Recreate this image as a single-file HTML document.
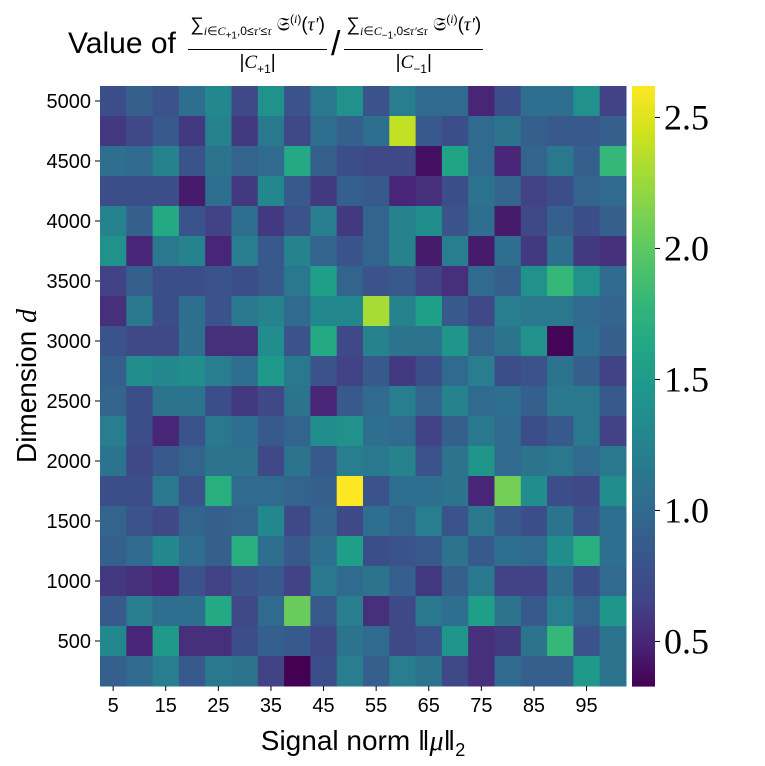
<!DOCTYPE html>
<html><head><meta charset="utf-8"><style>
body{margin:0;background:#fff;width:765px;height:766px;overflow:hidden;font-family:"Liberation Sans",sans-serif;position:relative}
#title{position:absolute;left:68px;top:12px;height:64px;display:flex;align-items:center;font-size:30px;color:#000;white-space:nowrap}
.frac{display:inline-flex;flex-direction:column;align-items:center;margin:0 4px;font-size:19px}
.frac .num{padding:0 2px;border-bottom:1.5px solid #000;line-height:26px}
.frac .den{line-height:26px}
i{font-family:"Liberation Serif",serif}
</style></head><body>
<div id="title">Value of&nbsp;<span class="frac"><span class="num">∑<sub style="font-size:12px"><i>i</i>∈<i>C</i><sub>+1</sub>,0≤<i>τ′</i>≤<i>τ</i></sub> 𝔖<sup style="font-size:12px">(<i>i</i>)</sup>(<i>τ′</i>)</span><span class="den">|<i>C</i><sub style="font-size:12px">+1</sub>|</span></span><span style="font-size:34px">/</span><span class="frac"><span class="num">∑<sub style="font-size:12px"><i>i</i>∈<i>C</i><sub>−1</sub>,0≤<i>τ′</i>≤<i>τ</i></sub> 𝔖<sup style="font-size:12px">(<i>i</i>)</sup>(<i>τ′</i>)</span><span class="den">|<i>C</i><sub style="font-size:12px">−1</sub>|</span></span></div>
<svg id="chart" width="765" height="766" style="position:absolute;left:0;top:0"></svg>
<script>
const xCats=[5,10,15,20,25,30,35,40,45,50,55,60,65,70,75,80,85,90,95,100];
const yCats=[5000,4750,4500,4250,4000,3750,3500,3250,3000,2750,2500,2250,2000,1750,1500,1250,1000,750,500,250];
const xTickLabels=[5,15,25,35,45,55,65,75,85,95];
const yTickLabels=[5000,4500,4000,3500,3000,2500,2000,1500,1000,500];
const cbTicks=[0.5,1.0,1.5,2.0,2.5];
const vmin=0.33, vmax=2.62;
const values=[
[0.75,0.9,0.8,1.05,1.3,0.7,1.4,0.8,1.15,1.4,0.8,1.2,1.0,1.0,0.5,0.75,1.05,1.05,1.4,0.65],
[0.6,0.7,0.85,0.6,1.25,0.6,1.15,0.7,1.05,0.9,1.05,2.4,0.85,0.75,1.0,1.1,0.9,0.85,0.85,0.9],
[1.05,1.0,1.25,0.8,1.1,0.95,1.0,1.65,0.9,0.75,0.7,0.7,0.4,1.6,1.0,0.5,0.95,1.15,0.9,1.8],
[0.75,0.75,0.75,0.45,1.05,0.6,1.3,0.85,0.6,0.9,0.85,0.5,0.55,0.75,1.1,0.95,0.65,0.75,0.95,1.0],
[1.25,0.9,1.65,0.8,0.65,1.05,0.6,0.8,1.2,0.6,0.95,1.25,1.35,0.8,1.05,0.45,0.7,0.9,0.75,0.9],
[1.4,0.5,1.15,1.25,0.5,1.2,0.85,1.25,0.95,0.8,0.95,1.25,0.45,1.2,0.45,1.05,0.6,1.05,0.6,0.55],
[0.65,0.9,0.75,0.75,0.8,0.75,0.85,1.15,1.55,0.95,0.8,0.85,0.65,0.55,1.0,0.9,1.4,1.8,1.4,1.0],
[0.55,1.15,0.75,1.05,0.8,1.15,1.25,1.0,1.3,1.3,2.3,1.25,1.55,0.85,0.7,1.2,1.15,1.15,1.0,0.95],
[0.8,0.7,0.7,1.05,0.55,0.55,1.35,0.8,1.65,0.7,1.25,1.1,1.1,1.45,0.95,1.1,1.4,0.35,1.05,0.9],
[0.9,1.35,1.3,1.35,1.2,1.05,1.5,1.15,0.8,0.65,0.85,0.6,0.75,1.0,1.2,0.75,0.8,1.1,0.9,0.65],
[0.95,0.75,1.1,1.1,0.75,0.6,0.7,1.1,0.5,0.85,1.0,1.2,0.95,1.25,1.0,1.05,0.9,1.15,1.15,0.85],
[1.2,0.75,0.5,0.8,1.15,1.05,0.85,0.95,1.35,1.4,1.05,1.0,0.65,0.9,1.15,1.0,0.75,0.85,1.15,0.65],
[1.1,0.7,0.85,0.95,1.1,1.1,0.7,1.1,0.85,1.2,1.15,1.25,0.8,1.1,1.45,1.0,1.1,1.15,1.0,1.15],
[0.75,0.75,1.15,0.8,1.7,1.0,1.0,0.95,0.9,2.62,0.8,1.05,1.05,1.1,0.5,2.1,1.35,0.75,0.7,1.35],
[0.95,0.8,0.7,0.95,0.9,0.95,1.3,0.7,0.95,0.7,1.05,0.95,1.2,0.8,1.15,0.85,0.75,1.1,0.8,1.05],
[0.9,1.0,1.3,1.05,0.9,1.7,1.05,0.85,1.05,1.55,0.75,0.8,0.85,1.1,0.85,1.05,1.0,1.35,1.7,1.05],
[0.6,0.55,0.5,0.8,0.65,0.8,0.85,0.65,1.15,1.0,1.1,0.9,0.6,0.9,1.15,0.65,0.65,1.05,0.75,1.0],
[0.85,1.2,1.05,1.05,1.65,0.7,1.0,2.05,0.85,1.2,0.55,0.7,1.15,1.05,1.55,1.1,0.85,1.2,0.95,1.45],
[1.3,0.5,1.5,0.55,0.55,0.75,0.9,0.85,0.7,1.1,1.0,0.7,0.8,1.45,0.55,0.6,1.1,1.8,0.8,1.1],
[0.9,1.0,1.2,0.85,1.15,1.1,0.65,0.33,0.75,1.2,0.9,1.2,1.1,0.7,0.55,1.0,0.9,0.9,1.5,1.1]
];
const VIR=[[68,1,84],[72,36,117],[65,68,135],[57,86,140],[49,104,142],[42,120,142],[35,137,142],[31,152,139],[34,168,132],[53,183,121],[84,197,104],[122,209,81],[165,219,54],[210,226,27],[253,231,37]];
function vir(v){let t=Math.max(0,Math.min(1,(v-vmin)/(vmax-vmin)))*(VIR.length-1);let i=Math.min(Math.floor(t),VIR.length-2),f=t-i;const c=VIR[i].map((a,k)=>Math.round(a+(VIR[i+1][k]-a)*f));return `rgb(${c[0]},${c[1]},${c[2]})`;}
const L=100,R=626,T=86,B=686,cw=(R-L)/xCats.length,ch=(B-T)/yCats.length;
const xPos=c=>L+xCats.indexOf(c)*cw, yPos=c=>T+yCats.indexOf(c)*ch;
const NS='http://www.w3.org/2000/svg',svg=document.getElementById('chart');
function mk(tag,attrs,txt){const e=document.createElementNS(NS,tag);for(const k in attrs)e.setAttribute(k,attrs[k]);if(txt!==undefined)e.textContent=txt;svg.appendChild(e);return e;}
yCats.forEach((yc,r)=>xCats.forEach((xc,c)=>{const e=mk('rect',{x:xPos(xc),y:yPos(yc),width:cw+0.5,height:ch+0.5,fill:vir(values[r][c])});

}));
xTickLabels.forEach(v=>{const x=xPos(v)+cw/2;const l=mk('line',{x1:x,x2:x,y1:B,y2:B+5,stroke:'#000','stroke-width':1});


const t=mk('text',{x:x,y:B+26,'text-anchor':'middle','font-size':20,'font-family':'Liberation Sans'},v);

});
yTickLabels.forEach(v=>{const y=yPos(v)+ch/2;const l=mk('line',{x1:L-5,x2:L,y1:y,y2:y,stroke:'#000','stroke-width':1});


const t=mk('text',{x:L-9,y:y+7,'text-anchor':'end','font-size':20,'font-family':'Liberation Sans'},v);

});
// colorbar
const CX=632,CW=23,N=120;
for(let i=0;i<N;i++){const v=vmin+(vmax-vmin)*(i+0.5)/N;const y=B-(i+1)*(B-T)/N;const e=mk('rect',{x:CX,y:y,width:CW,height:(B-T)/N+0.6,fill:vir(v)});

}
const cbY=v=>B-(v-vmin)/(vmax-vmin)*(B-T);
cbTicks.forEach(v=>{const y=cbY(v);const l=mk('line',{x1:CX+CW,x2:CX+CW+5,y1:y,y2:y,stroke:'#000'});


const t=mk('text',{x:CX+CW+9,y:y+12,'font-size':36,'font-family':'Liberation Serif'},v.toFixed(1));

});
const xl=mk('text',{x:363,y:750,'text-anchor':'middle','font-size':28,'font-family':'Liberation Sans'});
xl.innerHTML='Signal norm ‖<tspan font-family="Liberation Serif" font-style="italic">μ</tspan>‖<tspan font-size="18" dy="6">2</tspan>';


const yl=mk('text',{x:0,y:0,transform:'translate(36,386) rotate(-90)','text-anchor':'middle','font-size':28,'font-family':'Liberation Sans'});
yl.innerHTML='Dimension <tspan font-family="Liberation Serif" font-style="italic">d</tspan>';


</script>
</body></html>
